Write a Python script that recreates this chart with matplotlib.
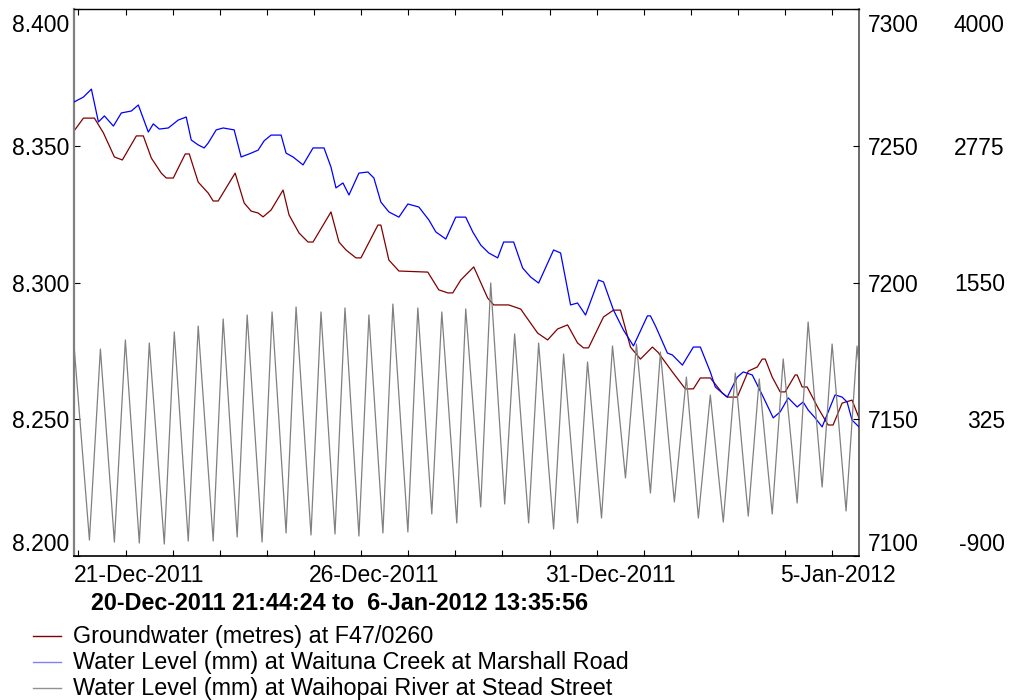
import numpy as np
import pandas as pd
import matplotlib
matplotlib.use("Agg")
import matplotlib.pyplot as plt
import matplotlib.transforms as mtransforms
from matplotlib.lines import Line2D

plt.rcParams['font.family'] = ['Liberation Sans', 'DejaVu Sans']

# time axis: days since 20-Dec-2011 00:00
base = pd.Timestamp('2011-12-20')
t_start = pd.Timestamp('2011-12-20 21:44:24')
t_end = pd.Timestamp('2012-01-06 13:35:56')

# Groundwater (metres) at F47/0260
gw_days = [0.906, 1.106, 1.339, 1.530, 1.763, 1.932, 2.229, 2.377, 2.547, 2.758, 2.864, 3.013,
           3.267, 3.352, 3.542, 3.754, 3.860, 3.966, 4.326, 4.517, 4.665, 4.814, 4.919, 5.089,
           5.343, 5.470, 5.682, 5.873, 5.979, 6.360, 6.530, 6.678, 6.890, 6.996, 7.356, 7.419,
           7.589, 7.801, 8.415, 8.648, 8.839, 8.945, 9.114, 9.390, 9.686, 9.814, 10.131, 10.386,
           10.746, 10.958, 11.169, 11.381, 11.593, 11.720, 11.826, 12.144, 12.356, 12.504, 12.716,
           12.928, 13.182, 13.300, 13.606, 13.881, 14.051, 14.199, 14.411, 14.665, 14.771, 14.983,
           15.216, 15.407, 15.513, 15.576, 15.725, 15.894, 16.000, 16.212, 16.254, 16.360, 16.466,
           16.699, 16.911, 17.017, 17.208, 17.419, 17.566]
gw_level = [8.3554, 8.3601, 8.3601, 8.3547, 8.3459, 8.3448, 8.3536, 8.3536, 8.3455, 8.3400, 8.3382, 8.3382,
            8.3470, 8.3470, 8.3367, 8.3327, 8.3298, 8.3298, 8.3400, 8.3291, 8.3261, 8.3254, 8.3240, 8.3265,
            8.3338, 8.3247, 8.3181, 8.3148, 8.3148, 8.3258, 8.3148, 8.3119, 8.3090, 8.3090, 8.3210, 8.3210,
            8.3082, 8.3042, 8.3038, 8.2973, 8.2962, 8.2962, 8.3009, 8.3057, 8.2943, 8.2918, 8.2918, 8.2903,
            8.2815, 8.2790, 8.2830, 8.2845, 8.2779, 8.2761, 8.2761, 8.2874, 8.2899, 8.2899, 8.2764,
            8.2720, 8.2764, 8.2745, 8.2673, 8.2611, 8.2611, 8.2651, 8.2651, 8.2596, 8.2581, 8.2581,
            8.2676, 8.2691, 8.2720, 8.2720, 8.2654, 8.2600, 8.2600, 8.2662, 8.2662, 8.2618, 8.2618,
            8.2541, 8.2479, 8.2479, 8.2559, 8.2570, 8.2505]

# Water Level (mm) at Waituna Creek at Marshall Road
wc_days = [0.906, 1.106, 1.275, 1.424, 1.551, 1.742, 1.911, 2.123, 2.271, 2.483, 2.589, 2.716,
           2.907, 3.119, 3.288, 3.394, 3.542, 3.669, 3.754, 3.924, 4.072, 4.305, 4.453, 4.665,
           4.814, 4.941, 5.089, 5.301, 5.407, 5.555, 5.767, 5.979, 6.212, 6.360, 6.466, 6.614,
           6.742, 6.953, 7.144, 7.271, 7.419, 7.589, 7.801, 7.992, 8.225, 8.436, 8.585, 8.797,
           9.008, 9.220, 9.369, 9.538, 9.708, 9.898, 10.025, 10.237, 10.428, 10.597, 10.767,
           11.085, 11.233, 11.445, 11.593, 11.763, 12.038, 12.144, 12.356, 12.568, 12.780,
           13.076, 13.140, 13.250, 13.500, 13.606, 13.818, 14.051, 14.199, 14.411, 14.517,
           14.665, 14.771, 14.983, 15.110, 15.301, 15.513, 15.746, 15.894, 16.064, 16.254,
           16.381, 16.487, 16.636, 16.784, 17.059, 17.208, 17.314, 17.419, 17.566]
wc_level = [7266.0, 7267.8, 7270.7, 7258.7, 7260.9, 7257.2, 7262.0, 7262.7, 7264.9, 7255.0, 7258.0, 7256.1,
            7256.5, 7259.4, 7260.5, 7252.1, 7250.3, 7249.2, 7251.0, 7255.8, 7256.5, 7255.8, 7245.9, 7247.3,
            7248.4, 7251.8, 7253.9, 7253.9, 7247.3, 7245.9, 7243.0, 7249.2, 7249.2, 7242.2, 7234.6, 7236.4,
            7232.0, 7240.0, 7240.4, 7238.2, 7229.4, 7225.8, 7223.9, 7228.7, 7227.6, 7222.9, 7218.5, 7215.9,
            7223.9, 7223.9, 7218.5, 7213.7, 7210.8, 7209.0, 7214.8, 7214.8, 7205.3, 7202.0, 7199.8,
            7211.9, 7210.8, 7191.8, 7192.5, 7188.1, 7200.9, 7200.2, 7189.9, 7182.6, 7176.8,
            7187.8, 7187.8, 7184.0, 7174.2, 7173.5, 7169.8, 7176.4, 7176.4, 7167.3, 7161.8,
            7159.6, 7158.1, 7165.4, 7167.3, 7166.2, 7158.9, 7150.5, 7152.7, 7157.8, 7154.5,
            7156.3, 7153.4, 7150.5, 7147.2, 7158.9, 7158.1, 7156.3, 7149.7, 7147.2]

# Water Level (mm) at Waihopai River at Stead Street (tidal peaks / troughs)
wr_days = [0.906, 1.233, 1.466, 1.763, 1.996, 2.292, 2.504, 2.822, 3.034, 3.331, 3.542, 3.860,
           4.072, 4.369, 4.581, 4.898, 5.110, 5.407, 5.619, 5.936, 6.148, 6.445, 6.657, 6.953,
           7.165, 7.462, 7.674, 7.992, 8.203, 8.500, 8.712, 9.030, 9.220, 9.538, 9.750, 10.047,
           10.258, 10.555, 10.767, 11.085, 11.297, 11.593, 11.805, 12.102, 12.335, 12.610,
           12.843, 13.140, 13.352, 13.648, 13.903, 14.157, 14.411, 14.686, 14.941, 15.216,
           15.449, 15.725, 15.958, 16.254, 16.487, 16.784, 16.996, 17.292, 17.525, 17.566]
wr_level = [990, -757, 954, -775, 1035, -784, 1008, -793, 1107, -766, 1160, -766,
            1223, -730, 1259, -775, 1286, -694, 1331, -712, 1286, -703, 1322, -721,
            1259, -694, 1357, -685, 1322, -524, 1286, -604, 1313, -461, 1546, -434,
            1089, -604, 1008, -658, 909, -604, 838, -560, 981, -201,
            999, -336, 927, -416, 703, -560, 542, -596, 739, -542,
            686, -524, 865, -425, 1196, -282, 999, -497, 981, 811]

gw_ticks = [8.200, 8.250, 8.300, 8.350, 8.400]
wc_ticks = [7100, 7150, 7200, 7250, 7300]
wr_ticks = [-900, 325, 1550, 2775, 4000]
tick_days = pd.date_range('2011-12-21', '2012-01-06', freq='D')
tick_labels = {'2011-12-21': '21-Dec-2011', '2011-12-26': '26-Dec-2011',
               '2011-12-31': '31-Dec-2011', '2012-01-05': '5-Jan-2012'}
names = ['Groundwater (metres) at F47/0260',
         'Water Level (mm) at Waituna Creek at Marshall Road',
         'Water Level (mm) at Waihopai River at Stead Street']


def to_time(days):
    return (base + pd.to_timedelta(np.asarray(days), unit='D')).to_numpy()


FS = 16.5    # tick labels
FS_T = 16.8  # title and legend
fig = plt.figure(figsize=(10.14, 7.0), dpi=100)
ax = fig.add_axes([74 / 1014, 1 - 556 / 700, 785 / 1014, 547 / 700])
ax2 = ax.twinx()
ax3 = ax.twinx()

ax.plot(to_time(gw_days), gw_level, color='#800000', lw=0.9)
ax2.plot(to_time(wc_days), wc_level, color='#0000ff', lw=0.9)
ax3.plot(to_time(wr_days), wr_level, color='#808080', lw=0.9)

ax.set_xlim(t_start, t_end)
ax.set_ylim(8.2, 8.4)
ax2.set_ylim(7100, 7300)
ax3.set_ylim(-900, 4000)

ax.set_xticks(tick_days)
ax.set_xticklabels([tick_labels.get(d.strftime('%Y-%m-%d'), '') for d in tick_days],
                   fontsize=FS, ha='left')
ax.tick_params(axis='x', direction='in', length=4, top=True, pad=6)

ax.set_yticks(gw_ticks)
ax.set_yticklabels(['%.3f' % v for v in gw_ticks], fontsize=FS)
ax.tick_params(axis='y', direction='in', length=4, pad=3.5)

ax2.set_yticks(wc_ticks)
ax2.set_yticklabels([str(v) for v in wc_ticks], fontsize=FS)
ax2.tick_params(axis='y', direction='in', length=4, pad=6.5)

ax3.set_yticks(wr_ticks)
ax3.set_yticklabels([str(v) for v in wr_ticks], fontsize=FS)
ax3.tick_params(axis='y', length=0, pad=105)
for lab in ax3.get_yticklabels():
    lab.set_ha('right')

# small nudges of label positions (pixels at 100 dpi)
def shift(label, dx, dy):
    label.set_transform(label.get_transform() +
                        mtransforms.ScaledTranslation(dx / 100, dy / 100, fig.dpi_scale_trans))

for lab in ax.get_xticklabels():
    shift(lab, -5, 0)

# end labels sit inside the frame
for a in (ax, ax2, ax3):
    labs = a.get_yticklabels()
    labs[0].set_va('bottom')
    labs[-1].set_va('top')
    shift(labs[-1], 0, -5)

for a in (ax2, ax3):
    for s in a.spines.values():
        s.set_visible(False)
ax.spines['left'].set_color('#808080')
ax.spines['left'].set_linewidth(1.6)
ax.spines['right'].set_color('#505050')
ax.spines['right'].set_linewidth(1.2)
ax.spines['top'].set_linewidth(1.0)
ax.spines['bottom'].set_linewidth(1.2)

fig.text(91 / 1014, 1 - 603 / 700, '20-Dec-2011 21:44:24 to  6-Jan-2012 13:35:56',
         fontsize=FS_T, fontweight='bold', va='center')

legend_colors = ['#800000', '#8080ff', '#909090']
for i, (name, col) in enumerate(zip(names, legend_colors)):
    y = 1 - (636 + 26 * i) / 700
    fig.add_artist(Line2D([33 / 1014, 61 / 1014], [y, y], color=col, lw=1.0))
    fig.text(73 / 1014, y, name, fontsize=FS_T, va='center')

fig.savefig('out.png', dpi=100)
